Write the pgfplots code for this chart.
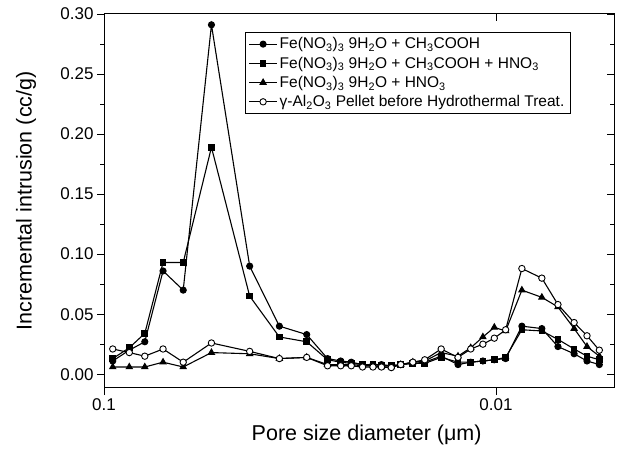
\documentclass[border=0pt]{standalone}
\usepackage{fontspec}
\setmainfont{Liberation Sans}
\usepackage{pgfplots}
\usepackage{pgfplotstable}
\pgfplotsset{compat=1.18}

% pore diameter (um) and incremental intrusion (cc/g)
% a: Fe(NO3)3 + CH3COOH, b: + CH3COOH + HNO3, c: + HNO3, d: gamma-Al2O3 pellet
\pgfplotstableread{
x       a     b     c     d
0.0950  0.011 0.013 0.006 0.021
0.0862  0.020 0.022 0.006 0.018
0.0787  0.027 0.034 0.006 0.015
0.0707  0.086 0.093 0.010 0.021
0.0628  0.070 0.093 0.006 0.010
0.0532  0.291 0.189 0.018 0.026
0.0425  0.090 0.065 0.017 0.019
0.0357  0.040 0.031 0.013 0.013
0.0304  0.033 0.027 0.014 0.014
0.0269  0.013 0.012 0.008 0.007
0.0249  0.011 0.010 0.008 0.007
0.0234  0.010 0.009 0.008 0.007
0.0219  0.008 0.008 0.007 0.006
0.0206  0.008 0.008 0.007 0.006
0.0196  0.008 0.007 0.006 0.006
0.0185  0.007 0.007 0.006 0.0055
0.0175  0.008 0.008 0.008 0.008
0.0163  0.009 0.009 0.010 0.010
0.0152  0.010 0.009 0.011 0.012
0.0138  0.015 0.014 0.018 0.021
0.0125  0.008 0.010 0.015 0.014
0.0116  0.010 0.010 0.022 0.021
0.0108  0.011 0.011 0.031 0.025
0.0101  0.012 0.012 0.039 0.030
0.00945 0.013 0.014 0.036 0.037
0.00859 0.040 0.037 0.070 0.088
0.00764 0.038 0.036 0.064 0.080
0.00695 0.023 0.029 0.056 0.058
0.00632 0.017 0.021 0.038 0.043
0.00586 0.011 0.015 0.023 0.032
0.00545 0.008 0.012 0.015 0.020
}\poredata

\pgfplotsset{
  poreaxis/.style={
    at={(0,0)}, anchor=south west,
    scale only axis, width=510pt, height=374pt,
    xmin=0.005, xmax=0.1,
    ymin=-0.0115, ymax=0.30,
    xtick={0.1,0.01},
    ytick={0,0.05,...,0.30},
    minor y tick num=1,
    axis line style={line width=1pt},
    every tick/.style={black, line width=0.9pt},
    major tick length=7pt, minor tick length=4pt,
  },
}

\begin{document}
\begin{tikzpicture}
\begin{axis}[
  xmode=log, x dir=reverse,
  poreaxis,
  tick align=outside,
  xtick pos=left, ytick pos=left,
  xticklabels={0.1,0.01},
  tick label style={font=\fontsize{17}{20}\selectfont},
  /pgf/number format/assume math mode=true,
  yticklabel style={/pgf/number format/fixed, /pgf/number format/fixed zerofill, /pgf/number format/precision=2},
  scaled y ticks=false,
  xlabel={Pore size diameter (μm)},
  ylabel={Incremental intrusion (cc/g)},
  every axis x label/.style={at={(axis description cs:0.515,-0.126)}, anchor=center,
    font=\fontsize{21.5}{24}\selectfont},
  every axis y label/.style={at={(axis description cs:-0.153,0.5)}, rotate=90, anchor=center,
    font=\fontsize{21.5}{24}\selectfont},
  legend style={
    at={(axis description cs:0.276,0.952)}, anchor=north west,
    draw=black, line width=0.6pt, fill=white,
    font=\fontsize{15.5}{18}\selectfont,
    row sep=2.5pt, inner sep=3.5pt,
    cells={anchor=west},
  },
  legend image code/.code={
    \draw[mark repeat=2,mark phase=2] plot coordinates {(0pt,0pt) (14pt,0pt) (28pt,0pt)};
  },
  every axis plot/.append style={black, line width=1.1pt},
]
\addplot[mark=*, mark size=3pt] table[x=x, y=a] {\poredata};
\addlegendentry{Fe(NO\textsubscript{3})\textsubscript{3} 9H\textsubscript{2}O + CH\textsubscript{3}COOH}
\addplot[mark=square*, mark size=2.8pt] table[x=x, y=b] {\poredata};
\addlegendentry{Fe(NO\textsubscript{3})\textsubscript{3} 9H\textsubscript{2}O + CH\textsubscript{3}COOH + HNO\textsubscript{3}}
\addplot[mark=triangle*, mark size=3.4pt] table[x=x, y=c] {\poredata};
\addlegendentry{Fe(NO\textsubscript{3})\textsubscript{3} 9H\textsubscript{2}O + HNO\textsubscript{3}}
\addplot[mark=*, mark size=3.2pt, mark options={fill=white, line width=0.9pt}] table[x=x, y=d] {\poredata};
\addlegendentry{γ-Al\textsubscript{2}O\textsubscript{3} Pellet before Hydrothermal Treat.}
\end{axis}
% inward ticks on the top and right sides
\begin{axis}[
  xmode=log, x dir=reverse,
  poreaxis,
  tick align=inside,
  xtick pos=right, ytick pos=right,
  xticklabels={}, yticklabels={},
]
\end{axis}
\pgfresetboundingbox
\path (-104pt,-62pt) rectangle (518pt,388pt);
\end{tikzpicture}
\end{document}
